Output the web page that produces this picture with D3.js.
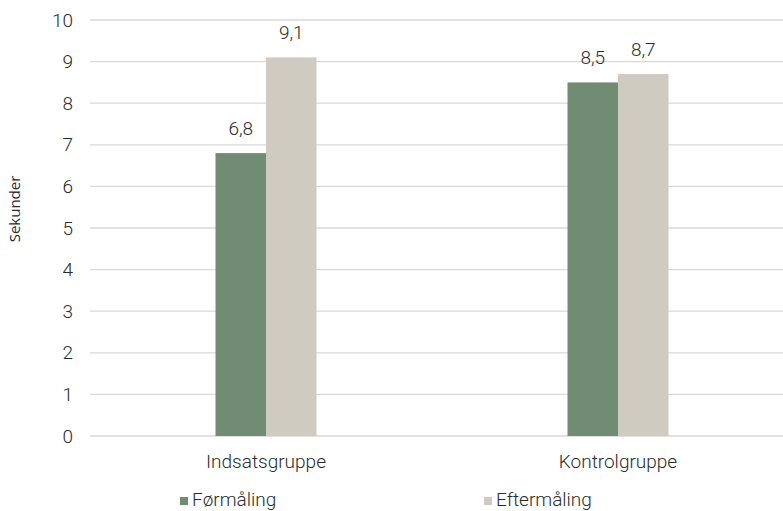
<!DOCTYPE html>
<html>
<head>
<meta charset="utf-8">
<script src="https://cdn.jsdelivr.net/npm/d3@7"></script>
<style>
  html, body { margin: 0; padding: 0; background: #fff; }
  svg { display: block; }
  text { font-family: Roboto, "Noto Sans", sans-serif; font-weight: 300; fill: #2b2b2b; }
</style>
</head>
<body>
<svg id="chart" width="783" height="511"></svg>
<script>
// Reaction time (seconds) before and after, per group
const categories = ["Indsatsgruppe", "Kontrolgruppe"];
const seriesNames = ["Førmåling", "Eftermåling"];
const formaling = [6.8, 8.5];
const eftermaling = [9.1, 8.7];
const yTicks = [0, 1, 2, 3, 4, 5, 6, 7, 8, 9, 10];
const colors = ["#728c73", "#cfcbc0"];

const fontSize = 19;
const svg = d3.select("#chart");
const plotLeft = 90, plotRight = 794, plotTop = 20, plotBottom = 436;

const x = d3.scaleBand().domain(categories).range([plotLeft, plotRight]);
const x1 = d3.scaleBand().domain(seriesNames).range([-50.5, 50.5]);
const y = d3.scaleLinear().domain([0, 10]).range([plotBottom, plotTop]);

// Horizontal gridlines
svg.append("g").selectAll("line").data(yTicks).join("line")
  .attr("x1", plotLeft).attr("x2", 783)
  .attr("y1", d => y(d)).attr("y2", d => y(d))
  .attr("stroke", "#d9d9d9").attr("stroke-width", 1.3);

// Y tick labels
const yAxis = d3.axisLeft(y).tickValues(yTicks).tickSize(0).tickPadding(17);
const yg = svg.append("g").attr("transform", `translate(${plotLeft},0)`).call(yAxis);
yg.select(".domain").remove();
yg.selectAll("text").attr("font-size", fontSize).attr("fill", "#2b2b2b")
  .style("font-family", "Roboto, sans-serif").style("font-weight", 300);

// Axis title
svg.append("text")
  .attr("transform", "translate(20,209) rotate(-90)")
  .attr("text-anchor", "middle")
  .attr("font-size", 15)
  .style("font-family", "'Open Sans', sans-serif")
  .style("font-weight", 400)
  .text("Sekunder");

// Bars
const rows = categories.map((c, i) => ({ cat: c, vals: [formaling[i], eftermaling[i]] }));
const groups = svg.append("g").selectAll("g").data(rows).join("g")
  .attr("transform", d => `translate(${x(d.cat) + x.bandwidth() / 2},0)`);

groups.selectAll("rect").data(d => d.vals.map((v, j) => ({ v, s: seriesNames[j], j })))
  .join("rect")
  .attr("x", d => x1(d.s))
  .attr("width", x1.bandwidth())
  .attr("y", d => y(d.v))
  .attr("height", d => y(0) - y(d.v))
  .attr("fill", d => colors[d.j]);

// Value labels
groups.selectAll("text.val").data(d => d.vals.map((v, j) => ({ v, s: seriesNames[j] })))
  .join("text").attr("class", "val")
  .attr("x", d => x1(d.s) + x1.bandwidth() / 2)
  .attr("y", d => y(d.v) - 18)
  .attr("text-anchor", "middle")
  .attr("font-size", fontSize)
  .text(d => d3.format(".1f")(d.v).replace(".", ","));

// Category labels
svg.append("g").selectAll("text").data(categories).join("text")
  .attr("x", d => x(d) + x.bandwidth() / 2)
  .attr("y", 468)
  .attr("text-anchor", "middle")
  .attr("font-size", fontSize)
  .text(d => d);

// Legend
const legendX = [180, 484];
const lg = svg.append("g").selectAll("g").data(seriesNames).join("g")
  .attr("transform", (d, i) => `translate(${legendX[i]},497)`);
lg.append("rect").attr("width", 8).attr("height", 8).attr("fill", (d, i) => colors[i]);
lg.append("text").attr("x", 12).attr("y", 8.5).attr("font-size", fontSize).text(d => d);
</script>
</body>
</html>
